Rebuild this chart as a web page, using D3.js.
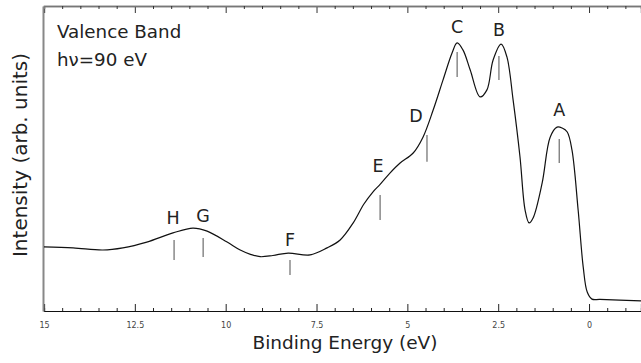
<!DOCTYPE html>
<html>
<head>
<meta charset="utf-8">
<script src="https://cdn.jsdelivr.net/npm/d3@7"></script>
<style>
  body { margin: 0; background: #fff; }
  svg { display: block; }
</style>
</head>
<body>
<svg id="chart"></svg>
<script>
// spectrum: binding energy (eV) and intensity (arb. units)
const energy = [15.0, 14.2, 13.38, 12.83, 12.17, 11.45, 10.9, 10.51, 9.96, 9.6, 9.3, 9.05, 8.7, 8.28, 7.68, 7.21,
  6.85, 6.49, 6.2, 5.95, 5.75, 5.48, 5.2, 4.84, 4.57, 4.29, 4.02, 3.77, 3.63, 3.47, 3.27, 3.0,
  2.81, 2.64, 2.42, 2.26, 2.09, 1.9, 1.76, 1.65, 1.54, 1.29, 1.07, 0.88, 0.74, 0.6, 0.47, 0.3, 0.16, 0.05, -0.08,
  -0.3, -1.43];
const intensity = [21.0, 20.7, 20.0, 20.7, 22.6, 25.6, 27.2, 26.2, 22.6, 20.0, 18.5, 17.8, 18.2, 19.0, 18.4, 20.7,
  23.3, 28.9, 35.0, 39.0, 41.5, 45.2, 48.5, 51.8, 57.0, 65.9, 75.7, 84.6, 87.9, 85.6, 79.0, 70.2,
  72.5, 82.3, 87.5, 83.3, 69.2, 50.5, 33.1, 28.9, 30.5, 42.0, 57.0, 60.3, 60.0, 58.7, 52.8, 33.1, 14.4, 6.2, 3.9,
  3.8, 3.3];

// peak markers
const peakNames = ["A", "B", "C", "D", "E", "F", "G", "H"];
const peakEnergy = [0.82, 2.48, 3.63, 4.46, 5.75, 8.23, 10.62, 11.42];
const peakLineTop = [56.4, 83.6, 84.9, 57.7, 38.0, 16.7, 23.9, 23.3];
const peakLineBottom = [48.5, 75.7, 76.7, 48.9, 29.8, 11.8, 17.7, 16.7];
const peakLabelEnergy = [0.82, 2.48, 3.63, 4.76, 5.81, 8.23, 10.62, 11.45];
const peakLabelIntensity = [63.9, 90.2, 91.1, 62.0, 45.6, 21.3, 29.2, 28.5];

const majorTicks = [15, 12.5, 10, 7.5, 5, 2.5, 0];
const tickLabels = ["15", "12.5", "10", "7.5", "5", "2.5", "0"];

const W = 641, H = 363;
const svg = d3.select("#chart").attr("width", W).attr("height", H);

const x = d3.scaleLinear().domain([15, -1.43]).range([44, 641]);
const y = d3.scaleLinear().domain([0, 100]).range([311, 6]);

const minorTicks = d3.range(30, -3, -1).map(d => d / 2).filter(d => !majorTicks.includes(d));

// bottom axis: major ticks with labels, minor ticks inside
const bottomAxis = svg.append("g").attr("transform", `translate(0,${y(0)})`);
bottomAxis.call(d3.axisBottom(x).tickValues(majorTicks).tickSize(-7).tickPadding(11)
  .tickFormat((d, i) => tickLabels[i]));
bottomAxis.append("g").call(d3.axisBottom(x).tickValues(minorTicks).tickSize(-3).tickFormat(""));
bottomAxis.selectAll(".domain").attr("stroke", "#111").attr("stroke-width", 1.2);
bottomAxis.selectAll(".tick line").attr("stroke", "#222");
bottomAxis.selectAll(".tick text").attr("font-family", "DejaVu Sans, sans-serif").attr("font-size", 8).attr("fill", "#444");

// top axis, ticks pointing down
const topAxis = svg.append("g").attr("transform", `translate(0,${y(100)})`);
topAxis.call(d3.axisTop(x).tickValues(majorTicks).tickSize(-7).tickFormat(""));
topAxis.append("g").call(d3.axisTop(x).tickValues(minorTicks).tickSize(-3).tickFormat(""));
topAxis.selectAll(".domain").attr("stroke", "#777").attr("stroke-width", 1.5);
topAxis.selectAll(".tick line").attr("stroke", "#333");

// left frame line
svg.append("g").attr("transform", `translate(${x(15) - 1},0)`)
  .call(d3.axisLeft(y).tickValues([]).tickSizeOuter(0))
  .select(".domain").attr("stroke", "#888").attr("stroke-width", 2);

// spectrum
const pts = energy.map((e, i) => [e, intensity[i]]);
svg.append("path")
  .datum(pts)
  .attr("fill", "none")
  .attr("stroke", "#111")
  .attr("stroke-width", 1.2)
  .attr("d", d3.line().x(d => x(d[0])).y(d => y(d[1])).curve(d3.curveCatmullRom.alpha(0.5)));

// peak markers and labels
const peaks = peakNames.map((n, i) => ({
  name: n, e: peakEnergy[i], top: peakLineTop[i], bot: peakLineBottom[i],
  le: peakLabelEnergy[i], li: peakLabelIntensity[i]
}));
svg.selectAll(".mark").data(peaks).enter().append("line")
  .attr("class", "mark")
  .attr("x1", d => x(d.e)).attr("x2", d => x(d.e))
  .attr("y1", d => y(d.top)).attr("y2", d => y(d.bot))
  .attr("stroke", "#777").attr("stroke-width", 1.3);
svg.selectAll(".plabel").data(peaks).enter().append("text")
  .attr("class", "plabel")
  .attr("x", d => x(d.le)).attr("y", d => y(d.li))
  .attr("text-anchor", "middle")
  .attr("font-family", "DejaVu Sans, sans-serif").attr("font-size", 17.5)
  .attr("fill", "#222")
  .text(d => d.name);

// header text
svg.append("text").attr("x", 57).attr("y", 38)
  .attr("font-family", "DejaVu Sans, sans-serif").attr("font-size", 18.3).attr("fill", "#222")
  .text("Valence Band");
svg.append("text").attr("x", 57).attr("y", 66)
  .attr("font-family", "DejaVu Sans, sans-serif").attr("font-size", 18.3).attr("fill", "#222")
  .text("hν=90 eV");

// axis titles
svg.append("text").attr("x", 345).attr("y", 349).attr("text-anchor", "middle")
  .attr("font-family", "DejaVu Sans, sans-serif").attr("font-size", 18.5).attr("fill", "#222")
  .text("Binding Energy (eV)");
svg.append("text").attr("transform", "translate(27,155) rotate(-90)").attr("text-anchor", "middle")
  .attr("font-family", "DejaVu Sans, sans-serif").attr("font-size", 20).attr("fill", "#222")
  .text("Intensity (arb. units)");
</script>
</body>
</html>
